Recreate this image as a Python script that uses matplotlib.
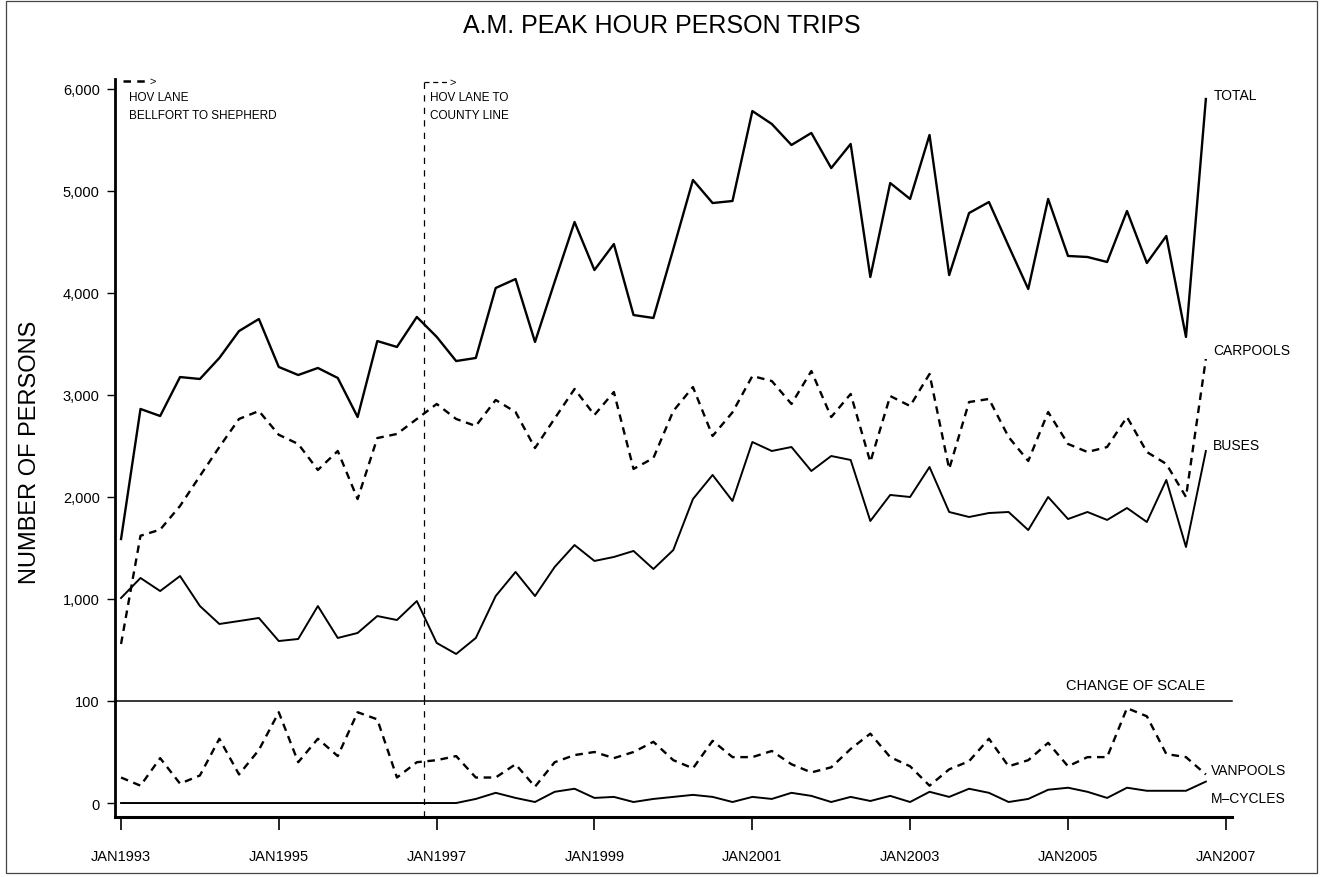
import numpy as np
import pandas as pd
import matplotlib
matplotlib.use('Agg')
import matplotlib.pyplot as plt
import matplotlib.dates as mdates
from matplotlib import font_manager
from matplotlib.ticker import FuncFormatter, FixedLocator
from matplotlib.patches import Rectangle
from datetime import datetime

names = {f.name for f in font_manager.fontManager.ttflist}
NARROW = 'Liberation Sans Narrow' if 'Liberation Sans Narrow' in names else 'Liberation Sans'
plt.rcParams['font.family'] = [NARROW, 'DejaVu Sans']

# ---------------- data ----------------
dates = pd.date_range('1993-01-01', periods=56, freq='QS')

total = [1588, 2863, 2794, 3176, 3157, 3363, 3627, 3745, 3275, 3196,
         3265, 3167, 2784, 3529, 3471, 3765, 3570, 3333, 3363, 4049,
         4137, 3520, 4110, 4696, 4225, 4480, 3784, 3755, 4430, 5108,
         4882, 4902, 5784, 5657, 5451, 5569, 5225, 5461, 4157, 5078,
         4922, 5549, 4176, 4784, 4892, 4461, 4039, 4922, 4363, 4353,
         4304, 4804, 4294, 4559, 3569, 5902]

carpools = [559, 1620, 1680, 1912, 2206, 2490, 2765, 2843, 2610, 2520,
            2265, 2451, 1980, 2578, 2618, 2765, 2912, 2765, 2696, 2951,
            2833, 2480, 2770, 3059, 2804, 3029, 2275, 2382, 2843, 3078,
            2598, 2830, 3186, 3137, 2912, 3235, 2784, 3010, 2343, 2990,
            2892, 3206, 2275, 2931, 2961, 2588, 2353, 2833, 2520, 2441,
            2490, 2784, 2441, 2324, 2000, 3353]

buses = [1010, 1206, 1078, 1225, 931, 755, 784, 814, 588, 608,
         931, 618, 667, 833, 794, 980, 569, 461, 618, 1029,
         1265, 1029, 1314, 1529, 1373, 1412, 1471, 1294, 1480, 1980,
         2216, 1961, 2539, 2451, 2490, 2255, 2402, 2363, 1765, 2020,
         2000, 2294, 1853, 1804, 1843, 1853, 1676, 2000, 1784, 1853,
         1775, 1892, 1755, 2167, 1510, 2451]

vanpools = [25, 17, 44, 19, 27, 63, 28, 52, 89, 40,
            63, 46, 89, 82, 25, 40, 42, 46, 25, 25,
            38, 16, 40, 47, 50, 44, 50, 60, 42, 34,
            61, 45, 45, 51, 38, 30, 35, 53, 68, 45,
            36, 17, 33, 41, 63, 36, 42, 59, 36, 45,
            45, 93, 85, 48, 45, 28]

mcycles = [0, 0, 0, 0, 0, 0, 0, 0, 0, 0,
           0, 0, 0, 0, 0, 0, 0, 0, 4, 10,
           5, 1, 11, 14, 5, 6, 1, 4, 6, 8,
           6, 1, 6, 4, 10, 7, 1, 6, 2, 7,
           1, 11, 6, 14, 10, 1, 4, 13, 15, 11,
           5, 15, 12, 12, 12, 21]

upper_ticks = [1000, 2000, 3000, 4000, 5000, 6000]
lower_ticks = [0, 100]
year_ticks = [1993, 1995, 1997, 1999, 2001, 2003, 2005, 2007]
hov1_date = datetime(1993, 1, 10)
hov2_date = datetime(1996, 11, 1)

# ---------------- layout ----------------
W, H = 1323, 878
fig = plt.figure(figsize=(W / 100, H / 100), dpi=100)
L, R = 115, 1232
Y_TOP, Y_MID, Y_BOT = 80, 702, 818
ax_top = fig.add_axes([L / W, 1 - Y_MID / H, (R - L) / W, (Y_MID - Y_TOP) / H])
ax_bot = fig.add_axes([L / W, 1 - Y_BOT / H, (R - L) / W, (Y_BOT - Y_MID) / H],
                      sharex=ax_top)
for a in (ax_top, ax_bot):
    a.patch.set_alpha(0)

# outer frame
fig.add_artist(Rectangle((6 / W, 1 - 874 / H), (1317 - 6) / W, (874 - 2) / H,
                         transform=fig.transFigure, fill=False,
                         edgecolor='#444444', lw=0.9))

K = 'black'
dash = (3.2, 2.4)

# ---------------- upper panel ----------------
ax_top.plot(dates, total, color=K, lw=1.7)
ax_top.plot(dates, carpools, color=K, lw=1.7, dashes=dash)
ax_top.plot(dates, buses, color=K, lw=1.4)
ax_top.set_ylim(0, 6098)
ax_top.set_xlim(datetime(1992, 12, 4), datetime(2007, 1, 30))
for s in ('top', 'right', 'bottom'):
    ax_top.spines[s].set_visible(False)
ax_top.spines['left'].set_linewidth(2.0)
ax_top.yaxis.set_major_locator(FixedLocator(upper_ticks))
ax_top.yaxis.set_major_formatter(FuncFormatter(lambda v, p: f'{int(v):,}'))
ax_top.tick_params(axis='y', length=6, width=1, labelsize=10.5, pad=5)
ax_top.tick_params(axis='x', bottom=False, labelbottom=False)

# ---------------- lower panel ----------------
ax_bot.plot(dates, vanpools, color=K, lw=1.7, dashes=dash)
ax_bot.plot(dates, mcycles, color=K, lw=1.4)
ax_bot.set_ylim(-13.7, 100)
for s in ('top', 'right'):
    ax_bot.spines[s].set_visible(False)
ax_bot.spines['left'].set_linewidth(2.0)
ax_bot.spines['bottom'].set_linewidth(2.2)
ax_bot.yaxis.set_major_locator(FixedLocator(lower_ticks))
ax_bot.tick_params(axis='y', length=6, width=1, labelsize=10.5, pad=5)
ax_bot.xaxis.set_major_locator(FixedLocator([mdates.date2num(datetime(y, 1, 1)) for y in year_ticks]))
ax_bot.xaxis.set_major_formatter(FuncFormatter(lambda v, p: mdates.num2date(v).strftime('JAN%Y')))
ax_bot.tick_params(axis='x', length=9, width=1.2, labelsize=10.5, pad=14)

# change of scale line
ax_bot.axhline(100, color=K, lw=1.1, clip_on=False)
ax_top.annotate('CHANGE OF SCALE', xy=(datetime(2005, 11, 10), 0), xytext=(0, 9),
                textcoords='offset pixels', ha='center', va='bottom', fontsize=10.5)

# HOV lane markers
vdash = (5, 5)
ax_top.axvline(hov2_date, ymin=0, ymax=0.995, color=K, lw=0.9, dashes=vdash)
ax_bot.axvline(hov2_date, ymin=0, ymax=1, color=K, lw=0.9, dashes=vdash)
ax_top.plot([hov2_date, datetime(1997, 3, 1)], [6069, 6069], color=K, lw=0.9, dashes=(4, 3))
ax_top.text(datetime(1997, 3, 1), 6069, '>', ha='left', va='center', fontsize=8)
ax_top.plot([hov1_date, datetime(1993, 5, 10)], [6078, 6078], color=K, lw=1.8, dashes=(3, 2.5))
ax_top.text(datetime(1993, 5, 14), 6078, '>', ha='left', va='center', fontsize=8)

ax_top.text(datetime(1993, 2, 5), 5922, 'HOV LANE', ha='left', va='center', fontsize=8.5)
ax_top.text(datetime(1993, 2, 5), 5745, 'BELLFORT TO SHEPHERD', ha='left', va='center', fontsize=8.5)
ax_top.text(datetime(1996, 12, 3), 5922, 'HOV LANE TO', ha='left', va='center', fontsize=8.5)
ax_top.text(datetime(1996, 12, 3), 5745, 'COUNTY LINE', ha='left', va='center', fontsize=8.5)

# series labels
ax_top.annotate('TOTAL', xy=(dates[-1], total[-1]), xytext=(8, 4),
                textcoords='offset pixels', ha='left', va='center', fontsize=10)
ax_top.annotate('CARPOOLS', xy=(dates[-1], carpools[-1]), xytext=(7, 9),
                textcoords='offset pixels', ha='left', va='center', fontsize=10)
ax_top.annotate('BUSES', xy=(dates[-1], buses[-1]), xytext=(7, 6),
                textcoords='offset pixels', ha='left', va='center', fontsize=10)
ax_bot.annotate('VANPOOLS', xy=(dates[-1], vanpools[-1]), xytext=(5, 4),
                textcoords='offset pixels', ha='left', va='center', fontsize=10)
ax_bot.annotate('M\u2013CYCLES', xy=(dates[-1], mcycles[-1]), xytext=(5, -16),
                textcoords='offset pixels', ha='left', va='center', fontsize=10)

# titles
fig.text(662 / W, 1 - 26 / H, 'A.M. PEAK HOUR PERSON TRIPS', ha='center', va='center',
         fontsize=18)
fig.text(30 / W, 1 - 452 / H, 'NUMBER OF PERSONS', ha='center', va='center',
         rotation=90, fontsize=17, family=['Liberation Sans', 'DejaVu Sans'])

fig.savefig('out.png', dpi=100)
